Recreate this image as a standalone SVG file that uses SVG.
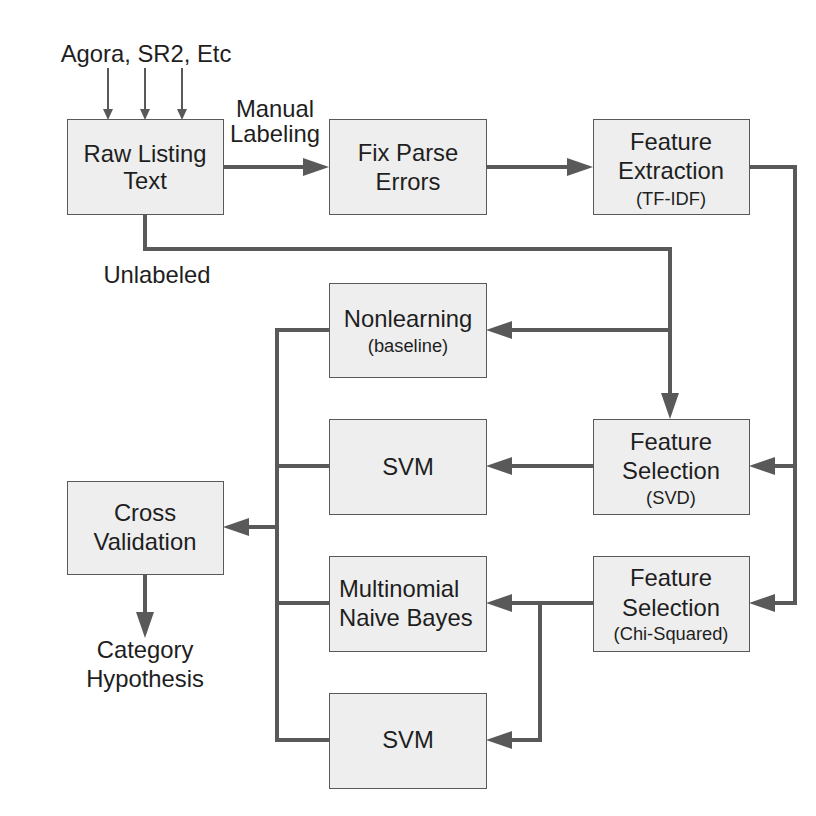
<svg xmlns="http://www.w3.org/2000/svg" width="816" height="816" viewBox="0 0 816 816">
<defs>
<style>
.box{fill:#eeeeee;stroke:#595959;stroke-width:1}
.t{font-family:"Liberation Sans",Arial,sans-serif;font-size:23.8px;fill:#1e1e1e;text-anchor:middle}
.s{font-size:18.3px}
.l{text-anchor:start}
.c{fill:none;stroke:#595959;stroke-width:4;stroke-linejoin:miter}
.c2{fill:none;stroke:#595959;stroke-width:2}
.big{marker-end:url(#ah)}
.sm{marker-end:url(#ahs)}
</style>
<marker id="ah" viewBox="0 0 26 18" refX="6" refY="9" markerWidth="26" markerHeight="18" markerUnits="userSpaceOnUse" orient="auto">
<path d="M0,0 L26,9 L0,18 z" fill="#595959"/>
</marker>
<marker id="ahs" viewBox="0 0 11 10" refX="3" refY="5" markerWidth="11" markerHeight="10" markerUnits="userSpaceOnUse" orient="auto">
<path d="M0,0 L11,5 L0,10 z" fill="#595959"/>
</marker>
</defs>
<rect width="816" height="816" fill="#ffffff"/>

<g id="connectors">
<path class="c2 sm" d="M108,68 V112"/>
<path class="c2 sm" d="M145,68 V112"/>
<path class="c2 sm" d="M182,68 V112"/>
<path class="c big" d="M223,167 H309"/>
<path class="c big" d="M486,167 H573"/>
<path class="c big" d="M749,167 H795 V603 H769"/>
<path class="c big" d="M795,466 H769"/>
<path class="c big" d="M145,214 V249 H670 V399"/>
<path class="c big" d="M670,330 H506"/>
<path class="c" d="M329,330 H277 V740 H329"/>
<path class="c" d="M277,466 H329"/>
<path class="c" d="M277,603 H329"/>
<path class="c big" d="M277,527 H243"/>
<path class="c big" d="M145,574 V618"/>
<path class="c big" d="M593,466 H506"/>
<path class="c big" d="M593,603 H506"/>
<path class="c big" d="M540,603 V740 H506"/>
</g>

<g id="labels">
<text class="t" x="146" y="62">Agora, SR2, Etc</text>
<text class="t" x="275" y="117">Manual</text>
<text class="t" x="275" y="142">Labeling</text>
<text class="t" x="157" y="283">Unlabeled</text>
<text class="t" x="145" y="658">Category</text>
<text class="t" x="145" y="687">Hypothesis</text>
</g>

<g id="raw">
<rect class="box" x="67.5" y="119.5" width="156" height="95"/>
<text class="t" x="145" y="162">Raw Listing</text>
<text class="t" x="145" y="189">Text</text>
</g>
<g id="fix">
<rect class="box" x="329.5" y="119.5" width="157" height="95"/>
<text class="t" x="408" y="161">Fix Parse</text>
<text class="t" x="408" y="190">Errors</text>
</g>
<g id="fe">
<rect class="box" x="593.5" y="119.5" width="156" height="95"/>
<text class="t" x="671" y="150">Feature</text>
<text class="t" x="671" y="179">Extraction</text>
<text class="t s" x="671" y="205">(TF-IDF)</text>
</g>
<g id="nonlearning">
<rect class="box" x="329.5" y="283.5" width="157" height="94"/>
<text class="t" x="408" y="327">Nonlearning</text>
<text class="t s" x="408" y="352">(baseline)</text>
</g>
<g id="svm1">
<rect class="box" x="329.5" y="419.5" width="157" height="95"/>
<text class="t" x="408" y="475">SVM</text>
</g>
<g id="fs_svd">
<rect class="box" x="593.5" y="419.5" width="156" height="95"/>
<text class="t" x="671" y="450">Feature</text>
<text class="t" x="671" y="479">Selection</text>
<text class="t s" x="671" y="504">(SVD)</text>
</g>
<g id="cross">
<rect class="box" x="67.5" y="481.5" width="156" height="93"/>
<text class="t" x="145" y="521">Cross</text>
<text class="t" x="145" y="550">Validation</text>
</g>
<g id="mnb">
<rect class="box" x="329.5" y="556.5" width="157" height="95"/>
<text class="t l" x="339" y="597">Multinomial</text>
<text class="t l" x="339" y="626">Naive Bayes</text>
</g>
<g id="fs_chi">
<rect class="box" x="593.5" y="556.5" width="156" height="95"/>
<text class="t" x="671" y="586">Feature</text>
<text class="t" x="671" y="616">Selection</text>
<text class="t s" x="671" y="640">(Chi-Squared)</text>
</g>
<g id="svm2">
<rect class="box" x="329.5" y="693.5" width="157" height="95"/>
<text class="t" x="408" y="748">SVM</text>
</g>
</svg>
